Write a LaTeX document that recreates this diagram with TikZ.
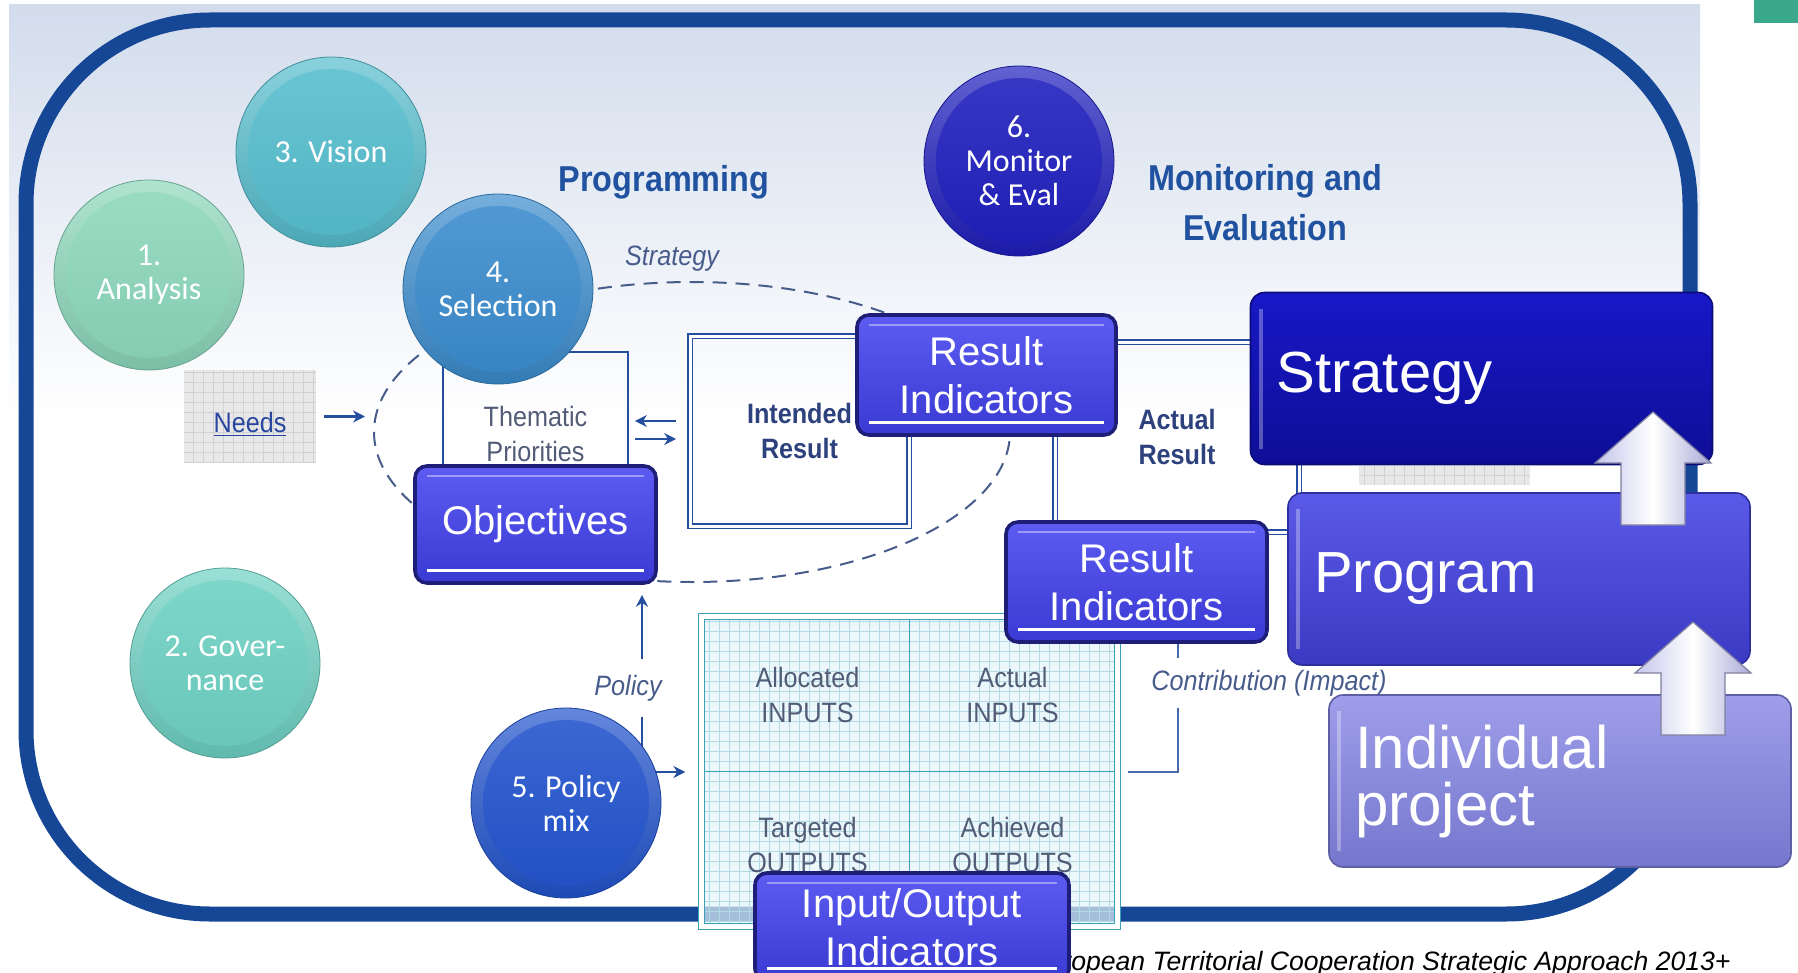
\documentclass[tikz,border=0pt]{standalone}
\usepackage{fontspec}
\newfontfamily\arialf{Liberation Sans}
\newfontfamily\narrowf[FakeStretch=0.9]{Liberation Sans}
\newfontfamily\calibrif{Carlito}
\usetikzlibrary{arrows.meta,shapes.geometric,calc}

\definecolor{framec}{RGB}{22,70,150}
\definecolor{bgtop}{RGB}{210,220,236}
\definecolor{greengap}{RGB}{58,168,138}
\definecolor{headc}{RGB}{32,82,160}
\definecolor{linec}{RGB}{38,78,160}
\definecolor{greyc}{RGB}{82,92,118}
\definecolor{boldc}{RGB}{45,65,125}
\definecolor{italc}{RGB}{72,92,140}
\definecolor{needc}{RGB}{40,70,160}
\definecolor{tealc}{RGB}{60,160,185}
\definecolor{cellc}{RGB}{226,243,248}
\definecolor{gridc}{RGB}{178,218,228}
\definecolor{gridgrey}{RGB}{232,232,232}
\definecolor{gridline}{RGB}{208,208,208}
\definecolor{navyc}{RGB}{30,30,120}
\definecolor{btntop}{RGB}{92,92,242}
\definecolor{btnbot}{RGB}{58,58,212}
\definecolor{anac}{RGB}{140,216,188}
\definecolor{visc}{RGB}{86,190,206}
\definecolor{selc}{RGB}{58,140,206}
\definecolor{govc}{RGB}{110,210,196}
\definecolor{polc}{RGB}{34,84,206}
\definecolor{monc}{RGB}{30,30,190}
\definecolor{strattop}{RGB}{24,24,200}
\definecolor{stratbot}{RGB}{14,14,150}
\definecolor{progtop}{RGB}{90,90,232}
\definecolor{progbot}{RGB}{58,58,196}
\definecolor{indivtop}{RGB}{158,158,234}
\definecolor{indivbot}{RGB}{118,118,206}
\definecolor{arrowL}{RGB}{196,196,236}
\definecolor{arrowR}{RGB}{170,170,218}
\definecolor{arrowedge}{RGB}{128,128,160}

\begin{document}
\begin{tikzpicture}[x=0.5pt,y=-0.5pt,>={Stealth[length=6pt,width=6pt]},
        disc/.style={circle,minimum size=95pt,inner sep=0pt,align=center,text=white,
          font=\calibrif\fontsize{16}{17}\selectfont,draw=#1!75!black,line width=.4pt,
          top color=#1!70!white,bottom color=#1!88!black,
          path picture={\shade[top color=#1!88!white,bottom color=#1!94!black]
            (path picture bounding box.center) circle (41.5pt);}},
        indicator/.style={rounded corners=6pt,draw=navyc,line width=1.8pt,
          top color=btntop,bottom color=btnbot,inner sep=0pt,align=center,text=white,
          font=\arialf\fontsize{20}{24}\selectfont,
          path picture={
            \draw[white,line width=1.5pt] ([xshift=6pt,yshift=6.5pt]path picture bounding box.south west)
              -- ([xshift=-6pt,yshift=6.5pt]path picture bounding box.south east);
            \draw[white,opacity=.4,line width=1pt] ([xshift=6pt,yshift=-5pt]path picture bounding box.north west)
              -- ([xshift=-6pt,yshift=-5pt]path picture bounding box.north east);}},
        bigbox/.style 2 args={rounded corners=7pt,draw=#2!80!black,line width=.8pt,
          top color=#1,bottom color=#2,inner xsep=13pt,text width=205pt,minimum height=86pt,
          align=left,text=white,font=\arialf\fontsize{29}{28.5}\selectfont,
          path picture={\draw[white,opacity=.3,line width=2pt]
            ([xshift=5pt,yshift=-8pt]path picture bounding box.north west)
              -- ([xshift=5pt,yshift=8pt]path picture bounding box.south west);}},
        framebox/.style={draw=linec,line width=.9pt,inner sep=0pt},
        dbl/.style={framebox,double=white,double distance=1.5pt},
        head/.style={font=\narrowf\bfseries\fontsize{18}{25}\selectfont,text=headc,align=center},
        smalltext/.style={font=\narrowf\fontsize{14}{17.5}\selectfont,text=greyc,align=center},
        boldtext/.style={font=\narrowf\bfseries\fontsize{14}{17.5}\selectfont,text=boldc,align=center},
        lbl/.style={font=\narrowf\itshape\fontsize{14}{17}\selectfont,text=italc,fill=white,inner xsep=1pt},
        arr/.style={->,draw=linec,line width=1.1pt},
        link/.style={draw=linec!85,line width=.9pt},
        greygrid/.style={fill=gridgrey,path picture={\draw[gridline,line width=.4pt,step=5pt]
            (path picture bounding box.south west) grid (path picture bounding box.north east);}},
        upblock/.style={draw=arrowedge,line width=.6pt,left color=arrowL,right color=arrowR,middle color=white}]
        \useasboundingbox (0,0) rectangle (1798,973);
        \clip (0,0) rectangle (1798,973);

        % background and frame
        \shade[top color=bgtop,bottom color=white] (9,5) rectangle (1700,420);
        \fill[greengap] (1754,0) rectangle (1798,23);
        \draw[framec,line width=7.5pt,rounded corners=92pt] (26,20) rectangle (1690,914);

        % strategy loop
        \node[ellipse,draw=italc,dash pattern=on 7pt off 4.5pt,line width=1pt,
          minimum width=318pt,minimum height=150pt,inner sep=0pt] (strat) at (692,432) {};
        \node[lbl,fill=none,anchor=base] (stratlbl) at (672,265) {Strategy};
        \node[greygrid,minimum width=66pt,minimum height=46.5pt,text height=15.5pt,text depth=0pt,
          font=\narrowf\fontsize{14}{17}\selectfont,text=needc] (needs) at (250,416.5) {\underline{Needs}};
        \draw[arr,shorten <=4pt,shorten >=4pt] (needs.east) -- (needs.east -| strat.west);

        \node[framebox,smalltext,minimum width=92.5pt,minimum height=81.5pt] (thematic) at (535.5,433.5) {Thematic\\Priorities};
        \node[dbl,boldtext,minimum width=109.5pt,minimum height=95pt] (intended) at (799.5,431) {Intended\\Result};
        \node[dbl,boldtext,minimum width=122pt,minimum height=95pt] (actual) at (1177,437) {Actual\\Result};
        \draw[arr,shorten <=6.5pt,shorten >=3pt] ($(intended.west)+(0,-10)$) -- ($(thematic.east |- intended.west)+(0,-10)$);
        \draw[arr,shorten <=3pt,shorten >=6.5pt] ($(thematic.east |- intended.west)+(0,8)$) -- ($(intended.west)+(0,8)$);

        \node[greygrid,minimum width=85.5pt,minimum height=9.5pt,inner sep=0pt] (shadowgrid) at (1444.5,475.5) {};

        % inputs / outputs table
        \node[draw=tealc,line width=.6pt,double=white,double distance=2.5pt,fill=cellc,fill opacity=.7,
          minimum width=208pt,minimum height=155pt,inner sep=0pt,
          path picture={\draw[gridc,line width=.4pt,step=5pt]
            (path picture bounding box.south west) grid (path picture bounding box.north east);}] (tbl) at (909.5,771.5) {};
        \draw[tealc,line width=.8pt,shorten <=1.75pt,shorten >=1.75pt] (tbl.north) -- (tbl.south);
        \draw[tealc,line width=.8pt,shorten <=1.75pt,shorten >=1.75pt] (tbl.west) -- (tbl.east);
        \node[smalltext] (alloc) at (807.5,694.5) {Allocated\\INPUTS};
        \node[smalltext] (actin) at (1012.5,694.5) {Actual\\INPUTS};
        \node[smalltext] (target) at (807.5,844.5) {Targeted\\OUTPUTS};
        \node[smalltext] (achieved) at (1012.5,844.5) {Achieved\\OUTPUTS};

        \node[indicator,minimum width=120.5pt,minimum height=58.5pt] (obj) at (535.5,524.5) {Objectives};
        \node[indicator,minimum width=129.5pt,minimum height=60pt] (riA) at (986.5,375) {Result\\Indicators};
        \node[indicator,minimum width=130.5pt,minimum height=60pt] (riB) at (1136.5,582) {Result\\Indicators};

        % policy and contribution links
        \coordinate (pturn) at (642,772);
        \draw[arr,shorten >=5pt] (pturn) -- (pturn |- obj.south);
        \draw[arr,shorten >=7.75pt] (pturn) -- (pturn -| tbl.west);
        \node[lbl,inner ysep=8pt,anchor=base] (policylbl) at (628,695) {Policy};
        \coordinate (cturn) at (1178,772);
        \draw[link,shorten >=5pt] (cturn |- riB.south) -- (cturn) -- (cturn -| tbl.east);
        \node[lbl,inner ysep=6pt,anchor=base] (contriblbl) at (1269,690) {Contribution (Impact)};

        % steps
        \node[disc=anac] (analysis) at (149,275) {1.\\Analysis};
        \node[disc=visc] (vision) at (331,152) {3. Vision};
        \node[disc=selc] (selection) at (498,289) {4.\\Selection};
        \node[disc=govc] (governance) at (225,663) {2. Gover-\\nance};
        \node[disc=polc] (policymix) at (566,803) {5. Policy\\mix};
        \node[disc=monc] (monitor) at (1019,161) {6.\\Monitor\\\& Eval};

        \node[head,anchor=base] (proghead) at (664,192) {Programming};
        \node[head] (monhead) at (1265,202.5) {Monitoring and\\Evaluation};

        % levels
        \node[bigbox={strattop}{stratbot}] (strategy) at (1481.5,378.5) {Strategy};
        \node[bigbox={progtop}{progbot}] (program) at (1519,579) {Program};
        \node[bigbox={indivtop}{indivbot},font=\arialf\fontsize{30}{28.5}\selectfont] (individual) at (1560,781) {Individual\\project};
        \foreach \ax/\ay in {1653/412,1693/622}
          \draw[upblock] (\ax,\ay) -- ++(58,51) -- ++(-26,0) -- ++(0,62) -- ++(-64,0) -- ++(0,-62) -- ++(-26,0) -- cycle;

        \node[anchor=base east,inner sep=0pt,font=\arialf\itshape\fontsize{13.3}{16}\selectfont] (caption) at (1731,970)
          {European Territorial Cooperation Strategic Approach 2013+};
        \node[indicator,minimum width=157pt,minimum height=54pt] (io) at (912,927) {Input/Output\\Indicators};
        \end{tikzpicture}
\end{document}
